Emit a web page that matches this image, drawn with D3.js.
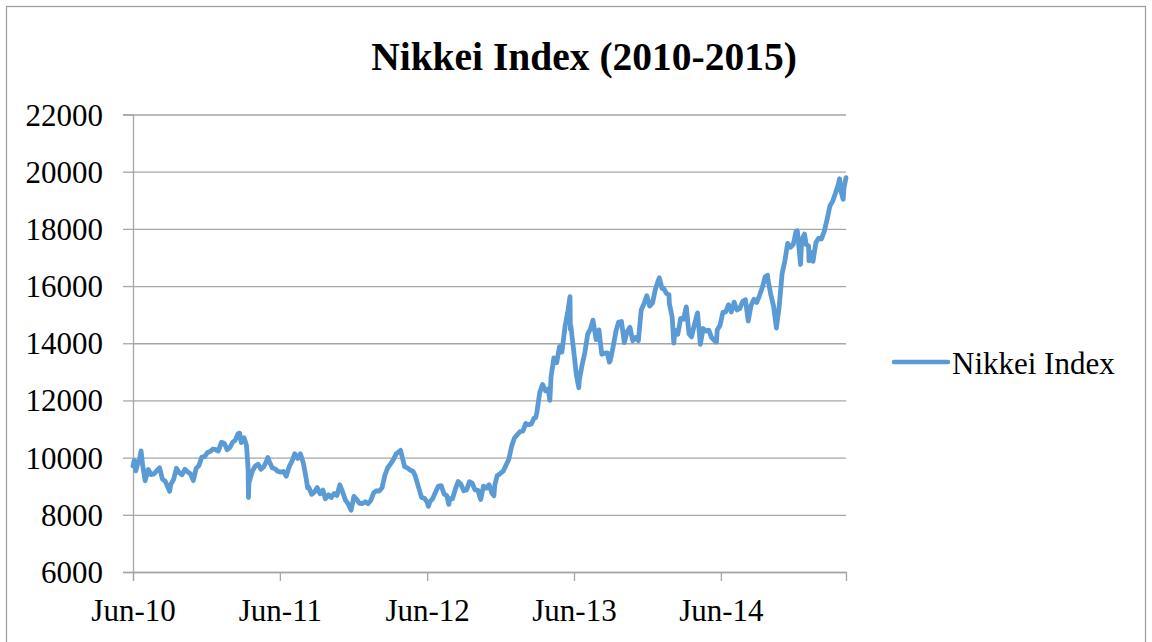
<!DOCTYPE html>
<html>
<head>
<meta charset="utf-8">
<script src="https://cdn.jsdelivr.net/npm/d3@7"></script>
<style>
  html, body { margin: 0; padding: 0; background: #fff; }
  svg { display: block; }
  text { font-family: "Liberation Serif", "Times New Roman", serif; fill: #000; }
</style>
</head>
<body>
<svg id="chart" width="1152" height="642"></svg>
<script>
// ---- Data ----
const chartTitle = "Nikkei Index (2010-2015)";
const seriesName = "Nikkei Index";

const dates = [
  "2010-06-01","2010-06-04","2010-06-08","2010-06-11","2010-06-18","2010-06-21","2010-06-25","2010-07-01","2010-07-09","2010-07-16",
  "2010-07-23","2010-07-30","2010-08-06","2010-08-13","2010-08-20","2010-08-31","2010-09-03","2010-09-10","2010-09-17","2010-09-24",
  "2010-10-01","2010-10-08","2010-10-15","2010-10-22","2010-10-29","2010-11-05","2010-11-12","2010-11-19","2010-11-26","2010-12-03",
  "2010-12-10","2010-12-17","2010-12-24","2010-12-30",
  "2011-01-07","2011-01-14","2011-01-21","2011-01-28","2011-02-04","2011-02-10","2011-02-17","2011-02-21","2011-02-25","2011-03-04",
  "2011-03-10","2011-03-11","2011-03-14","2011-03-15","2011-03-16","2011-03-18","2011-03-25","2011-04-01","2011-04-08","2011-04-15",
  "2011-04-22","2011-04-28","2011-05-02","2011-05-06","2011-05-13","2011-05-20","2011-05-27","2011-06-03","2011-06-10","2011-06-17",
  "2011-06-24","2011-07-01","2011-07-08","2011-07-15","2011-07-22","2011-07-29","2011-08-05","2011-08-09","2011-08-12","2011-08-19",
  "2011-08-26","2011-09-02","2011-09-09","2011-09-16","2011-09-22","2011-09-30","2011-10-07","2011-10-14","2011-10-21","2011-10-28",
  "2011-11-04","2011-11-11","2011-11-18","2011-11-25","2011-12-02","2011-12-09","2011-12-16","2011-12-22","2011-12-30",
  "2012-01-06","2012-01-13","2012-01-20","2012-01-27","2012-02-03","2012-02-10","2012-02-17","2012-02-24","2012-03-02","2012-03-09",
  "2012-03-16","2012-03-27","2012-03-30","2012-04-06","2012-04-13","2012-04-20","2012-04-27","2012-05-02","2012-05-11","2012-05-18",
  "2012-05-25","2012-06-01","2012-06-04","2012-06-08","2012-06-15","2012-06-22","2012-06-29","2012-07-06","2012-07-13","2012-07-20",
  "2012-07-25","2012-07-27","2012-08-03","2012-08-10","2012-08-17","2012-08-24","2012-08-31","2012-09-07","2012-09-14","2012-09-21",
  "2012-09-28","2012-10-05","2012-10-12","2012-10-19","2012-10-26","2012-11-02","2012-11-09","2012-11-14","2012-11-16","2012-11-22",
  "2012-11-30","2012-12-07","2012-12-14","2012-12-21","2012-12-28",
  "2013-01-04","2013-01-11","2013-01-18","2013-01-25","2013-02-01","2013-02-08","2013-02-15","2013-02-22","2013-02-26","2013-03-01",
  "2013-03-08","2013-03-15","2013-03-22","2013-03-29","2013-04-02","2013-04-05","2013-04-12","2013-04-19","2013-04-26","2013-05-02",
  "2013-05-10","2013-05-17","2013-05-22","2013-05-23","2013-05-24","2013-05-31","2013-06-07","2013-06-13","2013-06-14","2013-06-21",
  "2013-06-28","2013-07-05","2013-07-12","2013-07-18","2013-07-26","2013-08-02","2013-08-09","2013-08-16","2013-08-23","2013-08-28",
  "2013-08-30","2013-09-06","2013-09-13","2013-09-20","2013-09-27","2013-10-04","2013-10-11","2013-10-18","2013-10-25","2013-11-01",
  "2013-11-08","2013-11-15","2013-11-22","2013-11-29","2013-12-06","2013-12-13","2013-12-20","2013-12-27","2013-12-30",
  "2014-01-06","2014-01-10","2014-01-17","2014-01-23","2014-01-24","2014-01-31","2014-02-04","2014-02-07","2014-02-14","2014-02-21",
  "2014-02-28","2014-03-07","2014-03-14","2014-03-20","2014-03-28","2014-04-04","2014-04-11","2014-04-18","2014-04-25","2014-05-02",
  "2014-05-09","2014-05-16","2014-05-21","2014-05-23","2014-05-30","2014-06-06","2014-06-13","2014-06-20","2014-06-27","2014-07-04",
  "2014-07-11","2014-07-18","2014-07-25","2014-08-01","2014-08-08","2014-08-15","2014-08-22","2014-08-29","2014-09-05","2014-09-12",
  "2014-09-19","2014-09-25","2014-09-26","2014-10-03","2014-10-10","2014-10-17","2014-10-24","2014-10-31","2014-11-07","2014-11-14",
  "2014-11-21","2014-11-28","2014-12-05","2014-12-08","2014-12-12","2014-12-16","2014-12-19","2014-12-26","2014-12-30",
  "2015-01-05","2015-01-06","2015-01-09","2015-01-16","2015-01-23","2015-01-30","2015-02-06","2015-02-13","2015-02-20","2015-02-27",
  "2015-03-06","2015-03-13","2015-03-20","2015-03-23","2015-03-27","2015-04-01","2015-04-03","2015-04-08"
];

const closes = [
  9711, 9901, 9537, 9705, 9995, 10238, 9737, 9191, 9585, 9408,
  9431, 9537, 9642, 9253, 9179, 8824, 9062, 9239, 9626, 9471,
  9404, 9589, 9500, 9426, 9202, 9625, 9724, 10022, 10039, 10178,
  10211, 10303, 10279, 10229,
  10541, 10499, 10274, 10360, 10543, 10605, 10836, 10857, 10526, 10693,
  10434, 10254, 9620, 8605, 9093, 9207, 9536, 9708, 9768, 9591,
  9682, 9849, 10004, 9859, 9648, 9607, 9521, 9492, 9514, 9351,
  9678, 9868, 10137, 9974, 10132, 9833, 9299, 8944, 8963, 8719,
  8797, 8950, 8737, 8864, 8560, 8700, 8605, 8748, 8678, 9050,
  8801, 8514, 8374, 8160, 8643, 8536, 8401, 8395, 8455,
  8390, 8500, 8766, 8841, 8831, 8947, 9384, 9647, 9777, 9929,
  10129, 10255, 10084, 9688, 9638, 9561, 9521, 9381, 8953, 8611,
  8580, 8440, 8295, 8459, 8569, 8798, 9007, 9021, 8725, 8670,
  8366, 8567, 8556, 8891, 9163, 9070, 8840, 8871, 9159, 9110,
  8870, 8863, 8535, 9002, 8933, 9051, 8757, 8665, 9024, 9366,
  9446, 9527, 9737, 9940, 10395,
  10688, 10801, 10913, 10926, 11191, 11153, 11173, 11386, 11399, 11606,
  12283, 12560, 12338, 12398, 12003, 12833, 13485, 13317, 13884, 13694,
  14607, 15138, 15627, 14483, 14612, 13775, 12877, 12445, 12686, 13230,
  13677, 14310, 14506, 14808, 14129, 14467, 13615, 13650, 13660, 13338,
  13389, 13860, 14404, 14742, 14760, 14024, 14404, 14561, 14088, 14201,
  14086, 15165, 15381, 15661, 15299, 15403, 15870, 16178, 16291,
  15908, 15912, 15734, 15695, 15391, 14914, 14008, 14462, 14313, 14865,
  14841, 15274, 14327, 14224, 14696, 15063, 13960, 14516, 14429, 14457,
  14199, 14097, 14043, 14462, 14632, 15077, 15098, 15349, 15095, 15437,
  15164, 15215, 15457, 15523, 14778, 15318, 15539, 15425, 15669, 15948,
  16321, 16374, 16229, 15708, 15300, 14532, 15291, 16413, 16880, 17490,
  17357, 17459, 17920, 17935, 17371, 16755, 17621, 17818, 17450,
  17408, 16883, 17197, 16864, 17511, 17674, 17648, 17913, 18332, 18798,
  18971, 19254, 19560, 19754, 19286, 19034, 19435, 19790
];

const yTicks = [6000, 8000, 10000, 12000, 14000, 16000, 18000, 20000, 22000];
const xTickDates = ["2010-06-01", "2011-06-01", "2012-06-01", "2013-06-01", "2014-06-01"];

// ---- Layout ----
const W = 1152, H = 642;
const plot = { left: 133, right: 846, top: 114.5, bottom: 572 };
const lineColor = "#5B9BD5";
const gridColor = "#A6A6A6";
const fontFamily = '"Liberation Serif", "Times New Roman", serif';

const parse = d3.timeParse("%Y-%m-%d");
const data = dates.map((d, i) => ({ date: parse(d), value: closes[i] }));

const svg = d3.select("#chart");

// outer chart border
svg.append("rect")
  .attr("x", 6.5).attr("y", 6.5)
  .attr("width", 1139).attr("height", 700)
  .attr("fill", "none").attr("stroke", "#A0A0A0").attr("stroke-width", 1.3);

const x = d3.scaleTime()
  .domain([parse(dates[0]), parse(dates[dates.length - 1])])
  .range([plot.left, plot.right]);

const y = d3.scaleLinear()
  .domain([6000, 22000])
  .range([plot.bottom, plot.top]);

// gridlines
svg.append("g")
  .attr("transform", `translate(${plot.left},0)`)
  .call(d3.axisLeft(y).tickValues(yTicks).tickSize(-(plot.right - plot.left)).tickFormat(""))
  .call(g => g.select(".domain").remove())
  .call(g => g.selectAll("line").attr("stroke", gridColor).attr("stroke-width", 1.3));

// y axis
const yAxis = svg.append("g")
  .attr("transform", `translate(${plot.left},0)`)
  .call(d3.axisLeft(y).tickValues(yTicks).tickSize(10).tickPadding(20).tickFormat(d3.format("d")));
yAxis.select(".domain").attr("stroke", gridColor).attr("stroke-width", 1.3);
yAxis.selectAll("line").attr("stroke", gridColor).attr("stroke-width", 1.3);
yAxis.selectAll("text")
  .attr("font-family", fontFamily).attr("font-size", 31).attr("fill", "#000")
  .attr("dy", "0.34em");

// x axis
const xAxis = svg.append("g")
  .attr("transform", `translate(0,${plot.bottom})`)
  .call(d3.axisBottom(x).tickValues(xTickDates.map(parse)).tickSize(9).tickPadding(18)
    .tickFormat(d3.timeFormat("%b-%y")));
xAxis.select(".domain").attr("stroke", gridColor).attr("stroke-width", 1.3);
xAxis.selectAll("line").attr("stroke", gridColor).attr("stroke-width", 1.3);
xAxis.selectAll("text")
  .attr("font-family", fontFamily).attr("font-size", 31).attr("fill", "#000");

// series line
const line = d3.line().x(d => x(d.date)).y(d => y(d.value));
svg.append("path")
  .datum(data)
  .attr("d", line)
  .attr("fill", "none")
  .attr("stroke", lineColor)
  .attr("stroke-width", 4.8)
  .attr("stroke-linejoin", "round")
  .attr("stroke-linecap", "round");

// title
svg.append("text")
  .attr("x", 584).attr("y", 70)
  .attr("text-anchor", "middle")
  .attr("font-family", fontFamily)
  .attr("font-weight", "bold")
  .attr("font-size", 39.5)
  .text(chartTitle);

// legend
const legend = svg.append("g");
legend.append("line")
  .attr("x1", 894).attr("x2", 948).attr("y1", 362).attr("y2", 362)
  .attr("stroke", lineColor).attr("stroke-width", 4.5).attr("stroke-linecap", "round");
legend.append("text")
  .attr("x", 952).attr("y", 374)
  .attr("font-family", fontFamily).attr("font-size", 31)
  .text(seriesName);
</script>
</body>
</html>
